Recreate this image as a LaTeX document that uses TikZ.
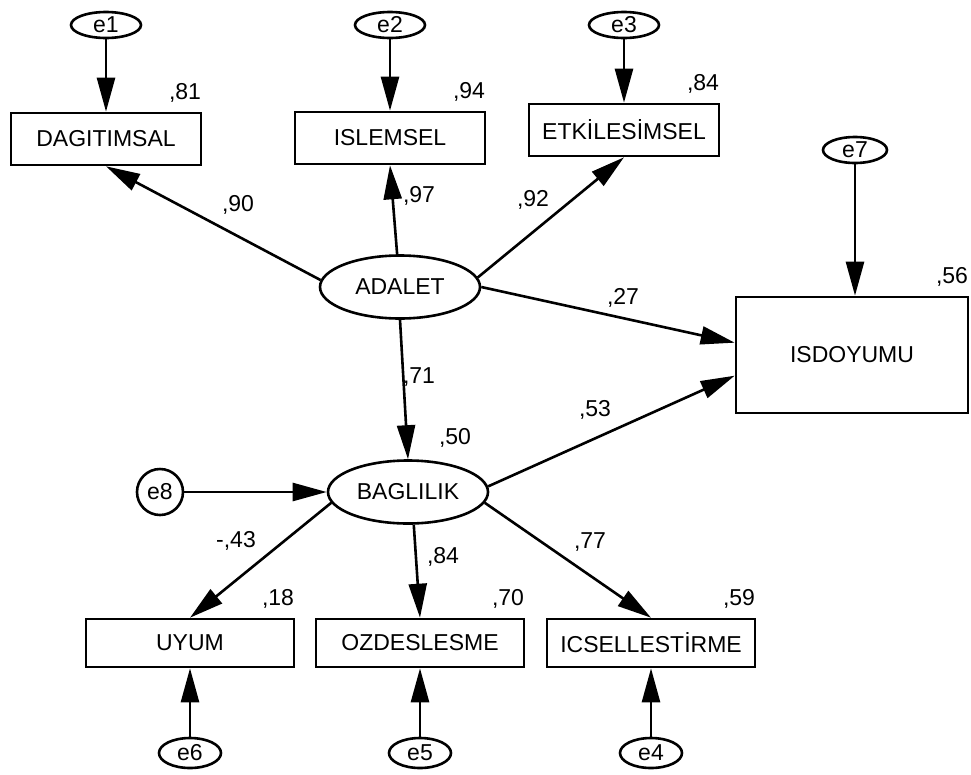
\documentclass[tikz,border=0pt]{standalone}
\usepackage{fontspec}
\setmainfont{Liberation Sans}
\usetikzlibrary{shapes.geometric, positioning, arrows.meta}
\tikzset{
  observed/.style={draw, rectangle, minimum width=190pt, minimum height=52pt, font=\fontsize{23}{26}\selectfont},
  latent/.style={draw, ellipse, minimum width=160pt, minimum height=63pt, font=\fontsize{23}{26}\selectfont},
  resid/.style={draw, ellipse, minimum width=70pt, minimum height=26pt, font=\fontsize{23}{26}\selectfont},
  effect/.style={-{Triangle[length=34pt, width=18pt]}},
  coef/.style={font=\fontsize{23}{26}\selectfont},
  rsq/.style={coef, anchor=base east, yshift=12pt},
  every node/.style={inner sep=0}
}

\begin{document}
\begin{tikzpicture}[x=1pt, y=-1pt, line width=2.6pt]
    \useasboundingbox (0,0) rectangle (971,774);
    % latent variables
    \node[latent] (adalet) at (400,287) {ADALET};
    \node[latent] (baglilik) at (408,492) {BAGLILIK};
    % indicators of ADALET
    \node[observed] (dagitimsal) at (106,139) {DAGITIMSAL};
    \node[observed] (islemsel) at (390,138) {ISLEMSEL};
    \node[observed] (etkilesimsel) at (624,130) {ETK\.ILES\.IMSEL};
    \node[observed, minimum width=232pt, minimum height=116pt] (isdoyumu) at (852,355) {ISDOYUMU};
    % indicators of BAGLILIK
    \node[observed, minimum width=208pt, minimum height=48pt] (uyum) at (190,643) {UYUM};
    \node[observed, minimum width=208pt, minimum height=48pt] (ozdeslesme) at (420,643) {OZDESLESME};
    \node[observed, minimum width=208pt, minimum height=48pt] (icsellestirme) at (651,643) {ICSELLEST\.IRME};
    % error terms
    \node[resid] (e1) at (106,25) {e1};
    \node[resid] (e2) at (390,25) {e2};
    \node[resid] (e3) at (624,25) {e3};
    \node[resid, minimum width=64pt] (e7) at (855,150) {e7};
    \node[resid, minimum width=46pt, minimum height=46pt] (e8) at (160,492) {e8};
    \node[resid, minimum width=62pt, minimum height=30pt] (e6) at (190,753) {e6};
    \node[resid, minimum width=62pt, minimum height=30pt] (e5) at (420,753) {e5};
    \node[resid, minimum width=62pt, minimum height=30pt] (e4) at (651,753) {e4};
    % squared multiple correlations
    \node[rsq] (r2dagitimsal) at (dagitimsal.north east) {,81};
    \node[rsq] (r2islemsel) at (islemsel.north east) {,94};
    \node[rsq] (r2etkilesimsel) at (etkilesimsel.north east) {,84};
    \node[rsq] (r2isdoyumu) at (isdoyumu.north east) {,56};
    \node[rsq] (r2uyum) at (uyum.north east) {,18};
    \node[rsq] (r2ozdeslesme) at (ozdeslesme.north east) {,70};
    \node[rsq] (r2icsellestirme) at (icsellestirme.north east) {,59};
    \node[coef] (r2baglilik) at (455,438) {,50};
    % error arrows
    \draw[effect] (e1) -- (dagitimsal);
    \draw[effect] (e2) -- (islemsel);
    \draw[effect] (e3) -- (etkilesimsel);
    \draw[effect] (e7) -- (e7 |- isdoyumu.north);
    \draw[effect] (e8) -- (baglilik);
    \draw[effect] (e6) -- (uyum);
    \draw[effect] (e5) -- (ozdeslesme);
    \draw[effect] (e4) -- (icsellestirme);
    % structural paths
    \draw[effect] (adalet.175) -- (dagitimsal.south);
    \draw[effect] (adalet.95) -- (islemsel.south);
    \draw[effect] (adalet.7) -- (etkilesimsel.south);
    \draw[effect] (adalet.east) -- (isdoyumu.174);
    \draw[effect] (adalet.south) -- (baglilik.north);
    \draw[effect] (baglilik.4) -- (isdoyumu.190);
    \draw[effect] (baglilik.188) -- (uyum.north);
    \draw[effect] (baglilik.280) -- (ozdeslesme.north);
    \draw[effect] (baglilik.352) -- (icsellestirme.north);
    % path coefficients
    \node[coef] (c90) at (238,205) {,90};
    \node[coef] (c97) at (419,196) {,97};
    \node[coef] (c92) at (533,200) {,92};
    \node[coef] (c27) at (623,298) {,27};
    \node[coef] (c71) at (419,377) {,71};
    \node[coef] (c53) at (595,410) {,53};
    \node[coef] (c43) at (236,541) {-,43};
    \node[coef] (c84) at (443,557) {,84};
    \node[coef] (c77) at (590,542) {,77};
\end{tikzpicture}
\end{document}
